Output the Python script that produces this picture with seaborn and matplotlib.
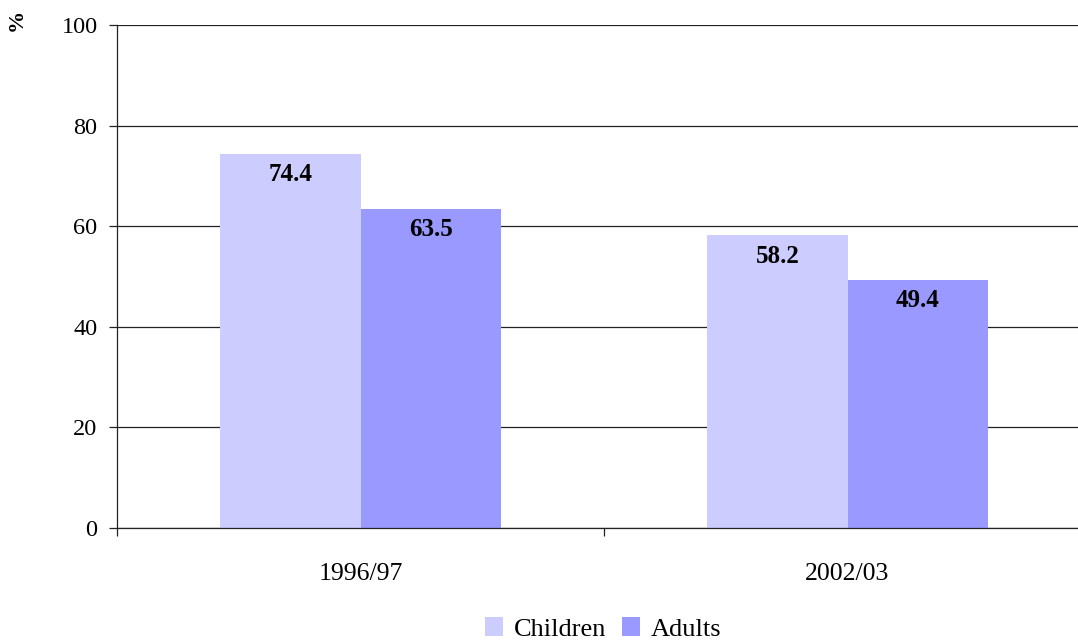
import matplotlib
matplotlib.use("Agg")
import matplotlib.pyplot as plt
import seaborn as sns
import pandas as pd

periods = ["1996/97", "2002/03"]
children = [74.4, 58.2]
adults = [63.5, 49.4]
groups = ["Children", "Adults"]
colors = ["#CCCCFF", "#9999FF"]
y_ticks = [0, 20, 40, 60, 80, 100]

df = pd.DataFrame({
    "period": periods * 2,
    "group": [groups[0]] * 2 + [groups[1]] * 2,
    "value": children + adults,
})

sns.set_theme(style="white")
plt.rcParams["font.family"] = ["Liberation Serif", "DejaVu Serif"]
plt.rcParams["text.color"] = "black"
plt.rcParams["xtick.color"] = "black"
plt.rcParams["ytick.color"] = "black"

W, H = 1078, 641
fig = plt.figure(figsize=(W / 100, H / 100), dpi=100)
ax = fig.add_axes([117 / W, 1 - 528 / H, (1078 - 117) / W, (528 - 25) / H])

sns.barplot(data=df, x="period", y="value", hue="group", palette=colors,
            width=0.575, saturation=1, ax=ax, edgecolor="none", legend=True)

ax.set_ylim(0, 100)
ax.set_xlim(-0.5, 1.5 - 13 / 487)
ax.set_yticks(y_ticks)
ax.set_yticklabels([str(v) for v in y_ticks], fontsize=17.5)
ax.set_xticks([-0.5, 0.5])
ax.set_xticklabels([])
for i, p in enumerate(periods):
    ax.text(i, -9.1, p, ha="center", va="center", fontsize=18.5)
ax.set_xlabel("")
ax.set_ylabel("")
ax.grid(axis="y", color="#222222", linewidth=0.9)
ax.set_axisbelow(True)
for side in ["top", "right"]:
    ax.spines[side].set_visible(False)
for side in ["left", "bottom"]:
    ax.spines[side].set_color("#222222")
    ax.spines[side].set_linewidth(0.9)
ax.tick_params(axis="y", left=True, length=6, width=0.9, color="#222222", pad=8)
ax.tick_params(axis="x", bottom=True, length=6, width=0.9, color="#222222")

for cont in ax.containers:
    for bar in cont:
        h = bar.get_height()
        ax.text(bar.get_x() + bar.get_width() / 2, h - 4.2, f"{h:.1f}",
                ha="center", va="center", fontsize=18, fontweight="bold")

fig.text(17 / W, 1 - 20 / H, "%", rotation=90, ha="center", va="center",
         fontsize=16, fontweight="bold")

leg = ax.legend(loc="center", ncol=2, frameon=False,
                fontsize=19, handlelength=0.7, handleheight=0.7,
                handletextpad=0.4, columnspacing=0.6, borderpad=0.2)
leg.set_bbox_to_anchor((603 / W, 1 - 629 / H), transform=fig.transFigure)

fig.savefig("out.png", dpi=100, facecolor="white")
